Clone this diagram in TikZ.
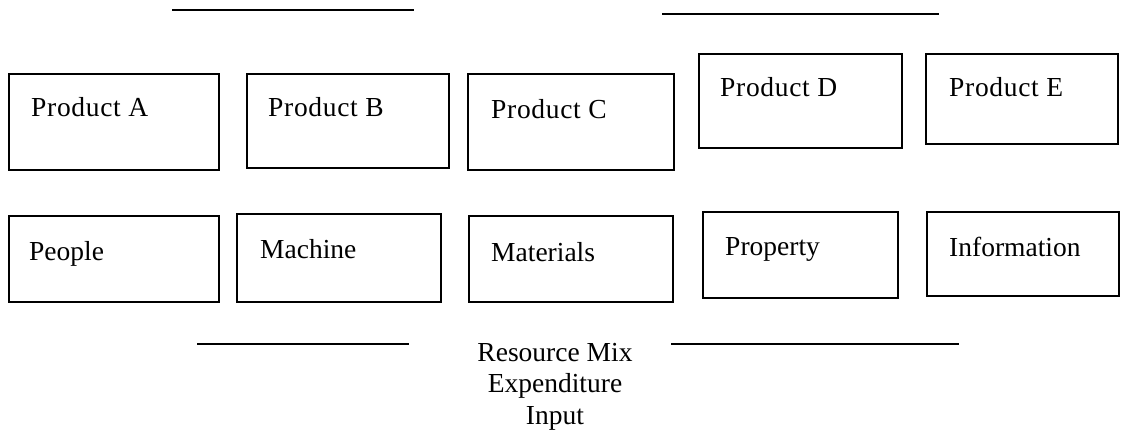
\documentclass[tikz,border=0pt]{standalone}
\usepackage{fontspec}
\setmainfont{Liberation Serif}
\newfontfamily\prodfont[LetterSpace=2.5]{Liberation Serif}
\begin{document}
\begin{tikzpicture}[x=1pt,y=-1pt,
  box/.style={draw,line width=2pt,rectangle,inner sep=0pt,outer sep=0pt},
  lbl/.style={anchor=base west,inner sep=0pt,font=\fontsize{27.5}{31}\selectfont},
  plbl/.style={lbl,font=\fontsize{27.5}{31}\prodfont},
  rule/.style={line width=2pt}]
\useasboundingbox (0,0) rectangle (1121,442);
% top row
\node[box,minimum width=210pt,minimum height=96pt] (pa) at (114,122) {};
\node[box,minimum width=202pt,minimum height=94pt] (pb) at (348,121) {};
\node[box,minimum width=206pt,minimum height=96pt] (pc) at (571,122) {};
\node[box,minimum width=203pt,minimum height=94pt] (pd) at (800.5,101) {};
\node[box,minimum width=192pt,minimum height=90pt] (pe) at (1022,99) {};
% bottom row
\node[box,minimum width=210pt,minimum height=86pt] (rp) at (114,259) {};
\node[box,minimum width=204pt,minimum height=88pt] (rm) at (339,258) {};
\node[box,minimum width=204pt,minimum height=86pt] (rt) at (571,259) {};
\node[box,minimum width=195pt,minimum height=86pt] (ry) at (800.5,255) {};
\node[box,minimum width=192pt,minimum height=84pt] (ri) at (1023,254) {};
% labels
\node[plbl] (tpa) at (31,116) {Product A};
\node[plbl] (tpb) at (268,116) {Product B};
\node[plbl] (tpc) at (491,118) {Product C};
\node[plbl] (tpd) at (720,96) {Product D};
\node[plbl] (tpe) at (949,96) {Product E};
\node[lbl] (trp) at (29,260) {People};
\node[lbl] (trm) at (260,258) {Machine};
\node[lbl] (trt) at (491,261) {Materials};
\node[lbl] (try) at (725,255) {Property};
\node[lbl] (tri) at (949,256) {Information};
% bottom caption
\node[anchor=north,inner sep=0pt,align=center,font=\fontsize{27.5}{31.5}\selectfont] (cap) at (555,343)
  {Resource Mix\\Expenditure\\Input};
% rules
\coordinate (l1a) at (172,10);  \coordinate (l1b) at (414,10);
\coordinate (l2a) at (662,14);  \coordinate (l2b) at (939,14);
\coordinate (l3a) at (197,344); \coordinate (l3b) at (409,344);
\coordinate (l4a) at (671,344); \coordinate (l4b) at (959,344);
\draw[rule] (l1a) -- (l1b);
\draw[rule] (l2a) -- (l2b);
\draw[rule] (l3a) -- (l3b);
\draw[rule] (l4a) -- (l4b);
\end{tikzpicture}
\end{document}
